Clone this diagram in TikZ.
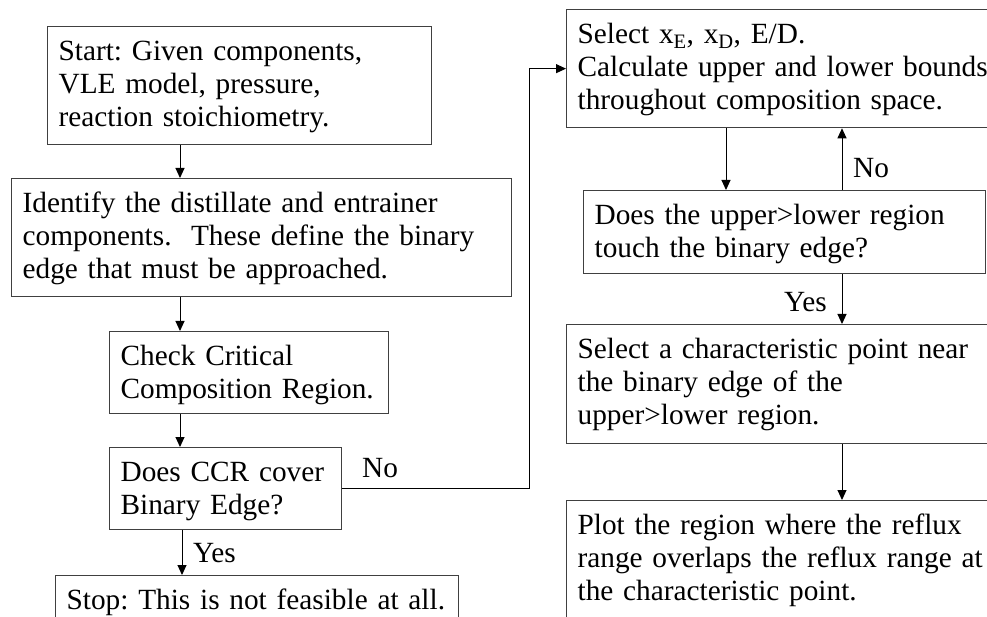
\documentclass[tikz,border=0pt]{standalone}
\usepackage{fontspec}
\setmainfont{Liberation Serif}
\usetikzlibrary{arrows.meta}

\begin{document}
\frenchspacing
\begin{tikzpicture}[x=1pt, y=-1pt,
  txt/.style={font=\fontsize{29.3}{33.4}\selectfont},
  box/.style={txt, draw=black!75, line width=1.3pt, anchor=north west,
    align=left, inner xsep=11pt, inner ysep=0pt, text height=33.5pt},
  lbl/.style={txt, inner sep=0pt},
  flow/.style={draw=black, line width=1pt, -{Triangle[length=10pt, width=9pt]}}
]
\clip (0,0) rectangle (987,617);
\fill[white] (0,0) rectangle (987,617);

% left column
\node[box, text width=362pt, text depth=84.5pt] (start) at (47,26)
  {Start: Given components,\\VLE model, pressure,\\reaction stoichiometry.};
\node[box, text width=478pt, text depth=84.5pt] (ident) at (11,178)
  {Identify the distillate and entrainer\\components.\ \ These define the binary\\edge that must be approached.};
\node[box, text width=257pt, text depth=48.5pt] (check) at (109,331)
  {Check Critical\\Composition Region.};
\node[box, text width=210pt, text depth=48.5pt] (ccr) at (109,447)
  {Does CCR cover\\Binary Edge?};
\node[box, text width=381pt, text depth=48.5pt] (stop) at (55,575)
  {Stop: This is not feasible at all.};

% right column
\node[box, text width=418pt, text depth=84.5pt] (select) at (566,9)
  {Select x\textsubscript{E}, x\textsubscript{D}, E/D.\\Calculate upper and lower bounds\\throughout composition space.};
\node[box, text width=380pt, text depth=49.5pt] (does) at (583,190)
  {Does the upper>lower region\\touch the binary edge?};
\node[box, text width=418pt, text depth=85.5pt] (selecta) at (566,324)
  {Select a characteristic point near\\the binary edge of the\\upper>lower region.};
\node[box, text width=418pt, text depth=84.5pt] (plot) at (566,500)
  {Plot the region where the reflux\\range overlaps the reflux range at\\the characteristic point.};

% guide coordinates for the vertical runs
\coordinate (lx) at (180,0);
\coordinate (yx) at (182,0);
\coordinate (jog) at (529,0);
\coordinate (dx) at (726,0);
\coordinate (ux) at (842,0);

% connectors
\draw[flow] (start.south -| lx) -- (ident.north -| lx);
\draw[flow] (ident.south -| lx) -- (check.north -| lx);
\draw[flow] (check.south -| lx) -- (ccr.north -| lx);
\draw[flow] (ccr.south -| yx) -- (stop.north -| yx);
\draw[flow] (ccr.east) -- (ccr.east -| jog) -- (select.west -| jog) -- (select.west);
\draw[flow] (select.south -| dx) -- (does.north -| dx);
\draw[flow] (does.north -| ux) -- (select.south -| ux);
\draw[flow] (does.south -| ux) -- (selecta.north -| ux);
\draw[flow] (selecta.south -| ux) -- (plot.north -| ux);

% branch labels
\node[lbl, anchor=base west] (noL) at (362,477) {No};
\node[lbl, anchor=base west] (yesL) at (193,562) {Yes};
\node[lbl, anchor=base west] (noR) at (853,178) {No};
\node[lbl, anchor=base east] (yesR) at (827,312) {Yes};
\end{tikzpicture}
\end{document}
